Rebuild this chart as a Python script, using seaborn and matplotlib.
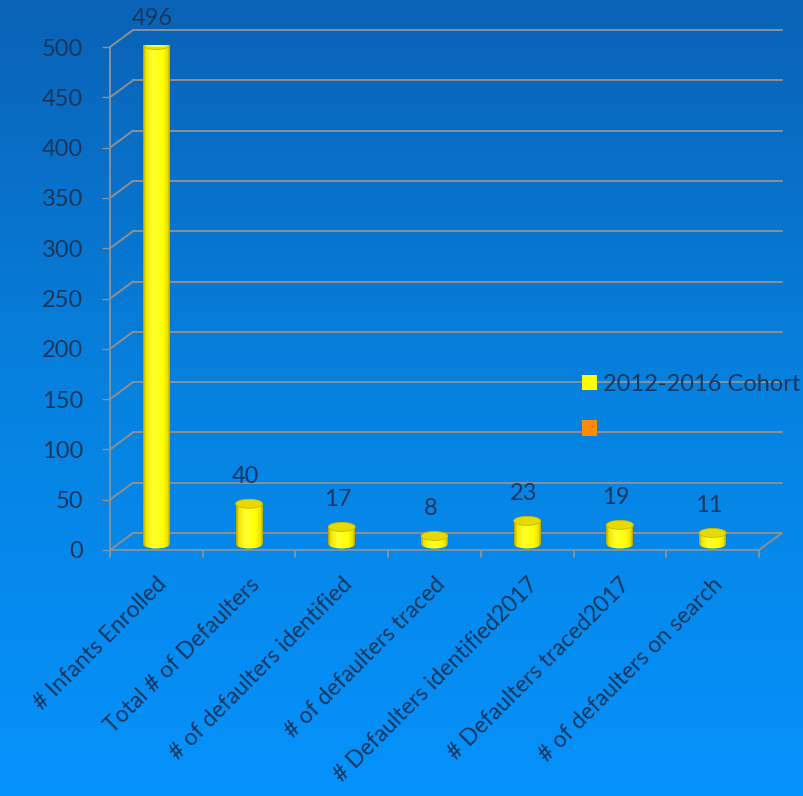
import numpy as np
import pandas as pd
import matplotlib
matplotlib.use("Agg")
import matplotlib.pyplot as plt
import seaborn as sns
from matplotlib.patches import Ellipse, Patch
from matplotlib.transforms import ScaledTranslation
from matplotlib.colors import LinearSegmentedColormap

categories = ["# Infants Enrolled", "Total # of Defaulters", "# of defaulters identified",
              "# of defaulters traced", "# Defaulters identified2017", "# Defaulters traced2017",
              "# of defaulters on search"]
values = [496, 40, 17, 8, 23, 19, 11]
series_name = "2012-2016 Cohort"
y_ticks = list(range(0, 501, 50))

W, H, DPI = 804, 796, 100
TEXT = "#17375e"
GRID = "#8f8f8f"
FONT = "Lato"
FS = 17

sns.set_theme(style="white")
plt.rcParams["font.family"] = [FONT, "DejaVu Sans"]

df = pd.DataFrame({"category": categories, "value": values, "series": series_name})

fig = plt.figure(figsize=(W / DPI, H / DPI), dpi=DPI)
fig.patch.set_facecolor("#0b66ba")

# background gradient
bg = fig.add_axes([0, 0, 1, 1], zorder=-10)
grad = np.linspace(0, 1, 256).reshape(-1, 1)
cmap_bg = LinearSegmentedColormap.from_list("bg", ["#0a62b6", "#0682e0", "#0592fc"])
bg.imshow(grad, aspect="auto", cmap=cmap_bg, extent=[0, 1, 0, 1], origin="upper")
bg.set_axis_off()

# main axes (front plane)
L, R, B, T = 110, 759, 550, 47
ax = fig.add_axes([L / W, 1 - B / H, (R - L) / W, (B - T) / H])
ax.patch.set_alpha(0)
n = len(categories)

sns.barplot(data=df, x="category", y="value", color="#ffff00", width=0.29,
            saturation=1, ax=ax, legend=False, zorder=5)
ax.set_xlim(-0.5, n - 0.5)
ax.set_ylim(0, 500)

px_x = (R - L) / n          # pixels per category unit
px_y = (B - T) / 500        # pixels per value unit
dx = 23 / px_x              # depth offset in data units
dy = 17 / px_y

# back wall gridlines + diagonals
for t in y_ticks:
    ax.plot([-0.5 + dx, n - 0.5 + dx], [t + dy, t + dy], color=GRID, lw=1.4,
            clip_on=False, zorder=1)
    ax.plot([-0.5, -0.5 + dx], [t, t + dy], color=GRID, lw=1.4, clip_on=False, zorder=1)
# floor
ax.plot([-0.5, n - 0.5], [0, 0], color=GRID, lw=1.4, clip_on=False, zorder=2)
ax.plot([n - 0.5, n - 0.5 + dx], [0, dy], color=GRID, lw=1.4, clip_on=False, zorder=2)
ax.plot([-0.5, -0.5], [0, 500], color=GRID, lw=1.4, clip_on=False, zorder=2)
# category ticks
for k in range(n + 1):
    ax.plot([k - 0.5, k - 0.5], [0, -7 / px_y], color=GRID, lw=1.4, clip_on=False, zorder=2)

# cylinders
off = ax.transData + ScaledTranslation(0, 6 / DPI, fig.dpi_scale_trans)
cyl = LinearSegmentedColormap.from_list(
    "cyl", [(0, "#b0a200"), (0.1, "#f0e800"), (0.35, "#ffff30"), (0.75, "#ffff00"),
            (0.92, "#ece000"), (1, "#b4a600")])
hgrad = np.linspace(0, 1, 64).reshape(1, -1)
cap_h = 9 / px_y
for p in list(ax.patches):
    x0, w, h = p.get_x(), p.get_width(), p.get_height()
    xc = x0 + w / 2
    p.set_transform(off)
    p.set_edgecolor("none")
    im = ax.imshow(hgrad, extent=[x0, x0 + w, 0, h], transform=off, aspect="auto",
                   cmap=cyl, zorder=5.5)
    im.set_clip_path(p)
    im2 = ax.imshow(hgrad, extent=[x0, x0 + w, -cap_h / 2, 0], transform=off,
                    aspect="auto", cmap=cyl, zorder=5.5)
    im2.set_clip_path(Ellipse((xc, 0), w, cap_h, transform=off))
    top = Ellipse((xc, h), w, cap_h, transform=off, facecolor="#e6da00",
                  edgecolor="#c8ba00", lw=0.6, zorder=6)
    ax.add_patch(top)
    ax.annotate(f"{int(round(h))}", xy=(xc, h), xytext=(-4, 33), textcoords="offset pixels",
                ha="center", va="center", color=TEXT, fontsize=FS, family=[FONT, "DejaVu Sans"])

ax.set_xlim(-0.5, n - 0.5)
ax.set_ylim(0, 500)

# y axis
ax.set_yticks(y_ticks)
ax.set_yticklabels([str(t) for t in y_ticks])
ax.tick_params(axis="y", length=8 / 1.389, width=1.0, color=GRID, pad=13.5,
               labelsize=FS, labelcolor=TEXT, left=True)
ax.set_xticks(range(n))
ax.set_xticklabels([])
ax.tick_params(axis="x", length=0)
for s in ax.spines.values():
    s.set_visible(False)
ax.set_xlabel("")
ax.set_ylabel("")

# category labels
for i, c in enumerate(categories):
    ax.annotate(c, xy=(i, 0), xytext=(7, -31), textcoords="offset pixels",
                rotation=45, rotation_mode="anchor", ha="right", va="center",
                color=TEXT, fontsize=16.5, family=[FONT, "DejaVu Sans"], annotation_clip=False)

# legend
handles = [Patch(facecolor="#ffff00", edgecolor="none", label=series_name),
           Patch(facecolor="#ff8c00", edgecolor="none", label=" ")]
leg = fig.legend(handles=handles, loc="center left", bbox_to_anchor=(582 / W, 1 - 407 / H),
                 bbox_transform=fig.transFigure, frameon=False, fontsize=FS,
                 handlelength=0.62, handleheight=0.62, handletextpad=0.28,
                 labelspacing=1.05, borderpad=0, borderaxespad=0)
for tx in leg.get_texts():
    tx.set_color(TEXT)

fig.savefig("out.png", dpi=DPI)
